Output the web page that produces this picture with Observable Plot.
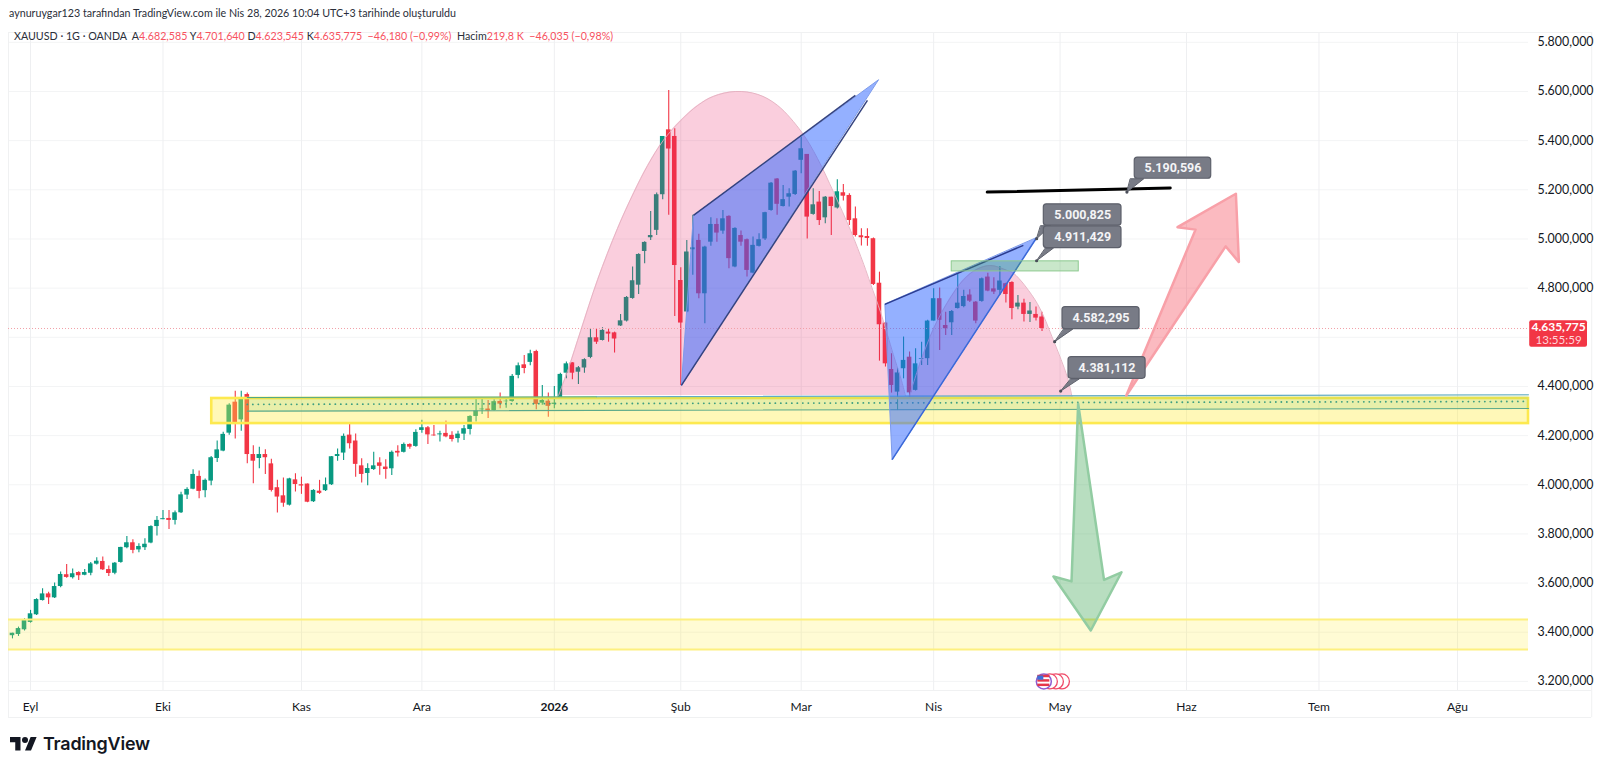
<!DOCTYPE html>
<html lang="tr">
<head>
<meta charset="utf-8">
<script src="https://cdn.jsdelivr.net/npm/d3@7"></script>
<script src="https://cdn.jsdelivr.net/npm/@observablehq/plot@0.6"></script>
<style>
html,body{margin:0;padding:0;background:#fff;width:1600px;height:770px;overflow:hidden;font-family:Lato,sans-serif;color:#131722}
#author{position:absolute;left:9px;top:5px;font-size:10.7px;line-height:16px;color:#2a2e39;white-space:nowrap}
#legend{position:absolute;left:14px;top:28px;font-size:10.7px;line-height:16px;color:#2a2e39;white-space:nowrap;z-index:2}
#legend b{font-weight:400;color:#f7525f}
#chart{position:absolute;left:0;top:26px}
#logo{position:absolute;left:10px;top:732px;display:flex;align-items:center;color:#131722}
#logo span{font-family:Inter,sans-serif;font-weight:600;font-size:17.9px;margin-left:6px;letter-spacing:-.2px;line-height:24px}
</style>
</head>
<body>
<div id="author">aynuruygar123 tarafından TradingView.com ile Nis 28, 2026 10:04 UTC+3 tarihinde oluşturuldu</div>
<div id="legend">XAUUSD · 1G · OANDA &nbsp;A<b>4.682,585</b> Y<b>4.701,640</b> D<b>4.623,545</b> K<b>4.635,775</b> &nbsp;<b>−46,180 (−0,99%)</b> &nbsp;Hacim<b>219,8 K</b> &nbsp;<b>−46,035 (−0,98%)</b></div>
<div id="chart"></div>
<div id="logo"><svg width="27" height="21" viewBox="0 0 36 28"><path fill="#131722" d="M14 22H7V11H0V4h14v18zM28 22h-8l7.5-18h8L28 22z"/><circle fill="#131722" cx="20" cy="8" r="4"/></svg><span>TradingView</span></div>
<script>
const openP = [3386,3391,3410,3440,3471,3529,3556,3540,3586,3634,3622,3643,3632,3640,3677,3688,3655,3640,3684,3744,3764,3735,3744,3763,3830,3858,3863,3855,3886,3958,3982,4034,3976,4015,4107,4137,4210,4336,4264,4367,4123,4107,4123,4085,3988,3955,3917,4020,4000,4003,3931,3974,3976,4000,4115,4129,4202,4178,4077,4046,4062,4089,4072,4065,4136,4132,4164,4156,4221,4232,4202,4203,4209,4201,4188,4206,4225,4278,4305,4308,4302,4339,4338,4339,4445,4488,4498,4542,4332,4340,4327,4354,4454,4496,4458,4475,4518,4598,4587,4621,4618,4646,4666,4758,4812,4949,5005,5035,5180,5444,5417,4831,4703,4956,4994,4777,4987,5059,5032,5092,4886,5014,4997,4861,4970,5000,5116,5244,5132,5170,5181,5320,5344,5100,5150,5086,5170,5126,5188,5177,5082,5013,5010,5001,4820,4658,4469,4377,4472,4519,4384,4510,4513,4666,4757,4648,4659,4717,4725,4772,4743,4746,4845,4797,4791,4818,4823,4723,4739,4693,4693,4682.585];
const highP = [3396,3421,3455,3489,3536,3577,3563,3600,3645,3676,3657,3646,3655,3684,3703,3706,3670,3684,3746,3790,3776,3760,3780,3833,3871,3895,3895,3893,3970,3988,4061,4056,4023,4115,4178,4214,4330,4380,4380,4373,4159,4153,4142,4104,4018,4028,4027,4045,4031,4003,3980,4018,4028,4115,4146,4207,4245,4207,4106,4085,4132,4110,4102,4137,4159,4170,4167,4224,4262,4237,4241,4218,4259,4216,4218,4241,4281,4354,4350,4343,4346,4373,4354,4449,4495,4526,4547,4547,4404,4373,4400,4454,4499,4496,4481,4513,4635,4635,4639,4635,4621,4693,4766,4886,4940,4989,5112,5187,5417,5604,5448,4883,4994,5096,5019,4970,5086,5082,5116,5094,5046,5032,5000,5008,5021,5109,5230,5246,5218,5204,5279,5421,5344,5204,5193,5173,5170,5241,5222,5184,5130,5042,5042,5004,4865,4662,4533,4474,4601,4540,4553,4580,4669,4797,4801,4702,4709,4856,4791,4793,4746,4841,4861,4842,4888,4820,4826,4770,4755,4742,4723,4701.64];
const lowP = [3373,3383,3405,3437,3468,3527,3513,3537,3581,3620,3617,3611,3630,3630,3674,3651,3627,3634,3681,3740,3719,3723,3733,3760,3792,3858,3818,3836,3883,3940,3980,3943,3947,3996,4091,4134,4201,4186,4218,4085,4004,4065,4042,3971,3885,3909,3914,3971,3961,3927,3928,3961,3973,3997,4096,4099,4146,4031,4007,3996,4058,4039,4022,4038,4113,4129,4145,4153,4210,4164,4197,4174,4191,4174,4170,4180,4202,4255,4286,4270,4300,4309,4311,4336,4431,4452,4484,4305,4323,4275,4309,4350,4431,4427,4408,4454,4513,4571,4585,4580,4536,4644,4662,4755,4774,4899,4994,5014,5160,5096,4685,4404,4700,4852,4757,4655,4970,4987,5019,4879,4883,4970,4845,4858,4967,4994,5113,5096,5130,5130,5177,5265,5000,5097,5055,5062,5014,5122,5154,5055,5008,4971,4970,4811,4503,4479,4373,4302,4431,4354,4381,4485,4485,4666,4546,4607,4607,4715,4720,4742,4655,4743,4785,4774,4770,4739,4671,4712,4662,4660,4666,4623.545];
const closeP = [3396,3415,3448,3475,3533,3556,3540,3586,3635,3623,3638,3630,3643,3678,3689,3654,3639,3681,3745,3764,3733,3749,3758,3830,3855,3862,3855,3886,3959,3981,4042,3973,4018,4110,4142,4205,4324,4251,4354,4123,4096,4123,4110,3977,3950,3925,4024,4001,3995,3929,3977,3965,4000,4114,4123,4197,4167,4083,4042,4066,4077,4075,4062,4132,4129,4164,4153,4213,4232,4203,4199,4207,4195,4184,4206,4228,4278,4300,4308,4300,4338,4328,4340,4441,4484,4473,4533,4327,4343,4319,4332,4449,4492,4454,4476,4509,4598,4580,4628,4613,4593,4667,4762,4830,4937,4986,5014,5180,5417,5366,4892,4658,4947,4964,4777,4967,5059,5024,5082,4920,5043,4987,4872,4974,4997,5107,5227,5141,5160,5184,5276,5367,5089,5139,5075,5170,5132,5192,5174,5075,5014,5005,5002,4815,4651,4492,4404,4455,4506,4374,4492,4513,4666,4757,4669,4635,4705,4739,4766,4747,4666,4838,4788,4784,4829,4774,4717,4739,4693,4707,4678,4635.775];

const monthBars = [3,25,48,68,111,131,153,174,195,217,240];
const monthNames = ["Eyl","Eki","Kas","Ara","Şub","Mar","Nis","May","Haz","Tem","Ağu"];
const yearBar = 90;
const yearName = "2026";
const priceGrid = [3200,3400,3600,3800,4000,4200,4400,4600,4800,5000,5200,5400,5600,5800];
const priceTicks = [3200,3400,3600,3800,4000,4200,4400,4800,5000,5200,5400,5600,5800];
const lastPrice = 4635.775;
const lastPriceText = "4.635,775";
const countdownText = "13:55:59";

const arcOneBars = [90.7,92.4,94.4,97.2,100.5,103.2,105.5,108.1,111,113.8,116.4,120.1,123.8,127.1,131.1,133.7,136.4,139.2,141.4,142.5,144.2,145.3,146.3,147.8,148.3];
const arcOnePrices = [4363,4477,4628,4835,5043,5189,5299,5401,5482,5543,5580,5600,5588,5543,5434,5328,5189,5035,4896,4819,4701,4612,4530,4412,4363];
const arcTwoBars = [148.9,150.8,153,155.3,158,160.2,162.5,165.2,166.3,170.2,172.9,175.2,176];
const arcTwoPrices = [4356,4499,4636,4742,4835,4877,4892,4872,4860,4738,4587,4438,4356];

const wedgeOneBars = [111.1,113.1,143.8];
const wedgeOnePrices = [4404,5096,5647];
const wedgeTwoBars = [144.9,146.1,170.1];
const wedgeTwoPrices = [4734,4102,5005];
const trendBars1 = [113.1,111.1,144.9,146.1];
const trendPrices1 = [5096,4404,4734,4102];
const trendBars2 = [140,142,167.9,170.1];
const trendPrices2 = [5584,5564,4974,5005];
const trendColors = ["#34427f","#34427f","#2b3c90","#3a68d8"];

const redArrowBars = [185,196.5,193.5,203.2,203.7,201.5];
const redArrowPrices = [4363,5038,5048,5184,4906,4970];
const greenArrowBars = [177,181.3,184.2,179.1,172.9,175.9];
const greenArrowPrices = [4330,3613,3644,3407,3627,3607];

const calloutText = ["5.190,596","5.000,825","4.911,429","4.582,295","4.381,112"];
const calloutBar = [185.1,170.1,170.1,173.1,174.1];
const calloutPrice = [5190.6,5000.8,4911.4,4582.3,4381.1];
const boxBar1 = [186.4,171.3,171.3,174.4,175.4];
const boxBar2 = [199.1,184.2,184.2,187.2,188.2];
const boxTop = [5331,5141,5051,4723,4519];
const boxBottom = [5245,5054,4963,4633,4431];
const tailBar1 = [185.7,170.8,171.6,174.6,175.8];
const tailBar2 = [187.9,172.4,172.9,176.1,177.2];

const domainLeft = -0.66, domainRight = 251.8, domainBottom = 3163, domainTop = 5840;

const candles = openP.map((o,i)=>({i,o,h:highP[i],l:lowP[i],c:closeP[i],col:closeP[i]>=o?"#089981":"#f23645"}));
const pts = (xs,ys,k)=>xs.map((x,j)=>({x,y:ys[j],k}));
const fmt = d3.formatLocale({decimal:",",thousands:".",grouping:[3]}).format(",.3f");
const font = "Lato,sans-serif";

const tails = calloutText.flatMap((t,i)=>[
  {x:calloutBar[i],y:calloutPrice[i],k:i},
  {x:tailBar2[i],y:boxBottom[i],k:i},
  {x:tailBar1[i],y:boxBottom[i],k:i}
]);
const callouts = calloutText.map((t,i)=>({t,x1:boxBar1[i],x2:boxBar2[i],top:boxTop[i],bottom:boxBottom[i],ax:calloutBar[i],ay:calloutPrice[i]}));

const plot = Plot.plot({
  width:1600,height:694,
  marginLeft:8,marginRight:72,marginTop:6,marginBottom:30,
  style:{background:"transparent",fontFamily:font},
  x:{type:"linear",domain:[domainLeft,domainRight]},
  y:{type:"linear",domain:[domainBottom,domainTop]},
  marks:[
    Plot.ruleY(priceGrid,{stroke:"#f3f4f5"}),
    Plot.ruleX(monthBars.concat([yearBar]),{y1:domainBottom,y2:domainTop,stroke:"#eeeff1"}),
    // frame
    Plot.ruleX([domainLeft,262.3],{y1:3053,y2:domainTop,stroke:"#f0f1f2"}),
    Plot.ruleY([domainTop,domainBottom,3053],{x1:domainLeft,x2:262.3,stroke:"#f0f1f2"}),
    // candles
    Plot.ruleX(candles,{x:"i",y1:"l",y2:"h",stroke:"col",strokeWidth:1.1}),
    Plot.rect(candles,{x1:d=>d.i-.38,x2:d=>d.i+.38,y1:"o",y2:"c",fill:"col"}),
    // pink arcs
    Plot.areaY(pts(arcOneBars,arcOnePrices,"a"),{x:"x",y1:4363,y2:"y",curve:"catmull-rom",fill:"#e91e63",fillOpacity:.22}),
    Plot.line(pts(arcOneBars,arcOnePrices,"a"),{x:"x",y:"y",curve:"catmull-rom",stroke:"#e3b0c0",strokeWidth:.9}),
    Plot.areaY(pts(arcTwoBars,arcTwoPrices,"b"),{x:"x",y1:4356,y2:"y",curve:"catmull-rom",fill:"#e91e63",fillOpacity:.22}),
    Plot.line(pts(arcTwoBars,arcTwoPrices,"b"),{x:"x",y:"y",curve:"catmull-rom",stroke:"#e3b0c0",strokeWidth:.9}),
    // yellow zones
    Plot.rect([{}],{x1:33.1,x2:domainRight,y1:4249,y2:4351,fill:"#ffeb3b",fillOpacity:.36,stroke:"#fde94f",strokeWidth:2.6}),
    Plot.rect([{}],{x1:domainLeft,x2:domainRight,y1:3330,y2:3452,fill:"#ffeb3b",fillOpacity:.22,stroke:"none"}),
    Plot.ruleY([3330,3452],{x1:domainLeft,x2:domainRight,stroke:"#fdf07f",strokeWidth:2}),
    // green channel
    Plot.line(pts([39,251.8,251.8,39],[4355,4366,4310.5,4299.5],"z"),{x:"x",y:"y",curve:"linear-closed",fill:"#4caf50",fillOpacity:.13,stroke:"none"}),
    Plot.line(pts([39,251.8],[4299.5,4310.5],"z"),{x:"x",y:"y",stroke:"#5aa98a",strokeWidth:1.1}),
    Plot.line(pts([39,97],[4355,4358],"z"),{x:"x",y:"y",stroke:"#4fa88a",strokeWidth:1.1}),
    Plot.line(pts([97,251.8],[4358,4366],"z"),{x:"x",y:"y",stroke:"#62acc4",strokeWidth:1.1}),
    Plot.line(pts([39,251.8],[4327,4339],"z"),{x:"x",y:"y",stroke:"#3f9f80",strokeWidth:1.8,strokeDasharray:"0.1,5.4",strokeLinecap:"round"}),
    // last price line
    Plot.ruleY([lastPrice],{x1:domainLeft,x2:domainRight,stroke:"#f2a0a8",strokeDasharray:"1,2"}),
    // blue wedges
    Plot.line(pts(wedgeOneBars,wedgeOnePrices,"w1"),{x:"x",y:"y",curve:"linear-closed",fill:"#2962ff",fillOpacity:.5,stroke:"#7d9bea",strokeWidth:1}),
    Plot.line(pts(wedgeTwoBars,wedgeTwoPrices,"w2"),{x:"x",y:"y",curve:"linear-closed",fill:"#2962ff",fillOpacity:.5,stroke:"#7d9bea",strokeWidth:1}),
    Plot.link(trendBars1.map((x,i)=>({x1:x,y1:trendPrices1[i],x2:trendBars2[i],y2:trendPrices2[i],c:trendColors[i]})),{x1:"x1",y1:"y1",x2:"x2",y2:"y2",stroke:"c",strokeWidth:1.5}),
    // green supply box
    Plot.rect([{}],{x1:156,x2:177.1,y1:4868,y2:4909,fill:"#4caf50",fillOpacity:.3,stroke:"#8cc98f",strokeWidth:1}),
    // black line
    Plot.line(pts([161.9,192.3],[5190.6,5207],"k"),{x:"x",y:"y",stroke:"#000",strokeWidth:3}),
    // arrows
    Plot.line(pts(redArrowBars,redArrowPrices,"r"),{x:"x",y:"y",curve:"linear-closed",fill:"#f23645",fillOpacity:.34,stroke:"#f8a0a8",strokeWidth:2.5,strokeLinejoin:"round"}),
    Plot.line(pts(greenArrowBars,greenArrowPrices,"g"),{x:"x",y:"y",curve:"linear-closed",fill:"#2e9e45",fillOpacity:.34,stroke:"#92cca2",strokeWidth:2.5,strokeLinejoin:"round"}),
    // flags
    Plot.dot([174.3,173.3,172.3],{x:d=>d,y:3200,r:7.5,fill:"#fff",stroke:"#ef4a68",strokeWidth:1.3}),
    Plot.dot([171.3],{x:d=>d,y:3200,r:7.5,fill:"#fff",stroke:"#8e5bd0",strokeWidth:1.5}),
    Plot.rect([3222,3204,3186],{x1:170.3,x2:172.3,y1:d=>d-7,y2:d=>d+3,fill:"#e5374a"}),
    Plot.rect([{}],{x1:170.3,x2:171.3,y1:3205,y2:3222,fill:"#3c6fd8"}),
    // callouts
    Plot.line(tails,{x:"x",y:"y",z:"k",curve:"linear-closed",fill:"#787b86",stroke:"#5d606b",strokeWidth:1}),
    Plot.dot(callouts,{x:"ax",y:"ay",r:1.6,fill:"#4a4e59"}),
    Plot.rect(callouts,{x1:"x1",x2:"x2",y1:"bottom",y2:"top",fill:"#787b86",stroke:"#5d606b",strokeWidth:1.2,rx:3}),
    Plot.text(callouts,{x:d=>(d.x1+d.x2)/2,y:d=>(d.top+d.bottom)/2,text:"t",fill:"#f4f4f6",fontSize:12.5,fontWeight:700,fontFamily:"Roboto,sans-serif",style:{letterSpacing:".6px"}}),
    // last price label
    Plot.rect([{}],{x1:252,x2:261.6,y1:4559,y2:4667,fill:"#f23645",rx:2}),
    Plot.text([lastPriceText],{x:256.8,y:4643,fill:"#fff",fontSize:12,fontWeight:700}),
    Plot.text([countdownText],{x:256.8,y:4587,fill:"#ffd5d9",fontSize:11.6,fontWeight:400}),
    // axes
    Plot.axisY(priceTicks,{anchor:"right",tickSize:0,tickPadding:9,tickFormat:fmt,fontSize:12.4,fill:"#131722",label:null}),
    Plot.axisX(monthBars,{anchor:"bottom",tickSize:0,tickPadding:12,tickFormat:d=>monthNames[monthBars.indexOf(d)],fontSize:12,fill:"#131722",label:null}),
    Plot.axisX([yearBar],{anchor:"bottom",tickSize:0,tickPadding:12,tickFormat:()=>yearName,fontSize:12,fontWeight:700,fill:"#131722",label:null})
  ]
});
document.getElementById("chart").appendChild(plot);
</script>
</body>
</html>
